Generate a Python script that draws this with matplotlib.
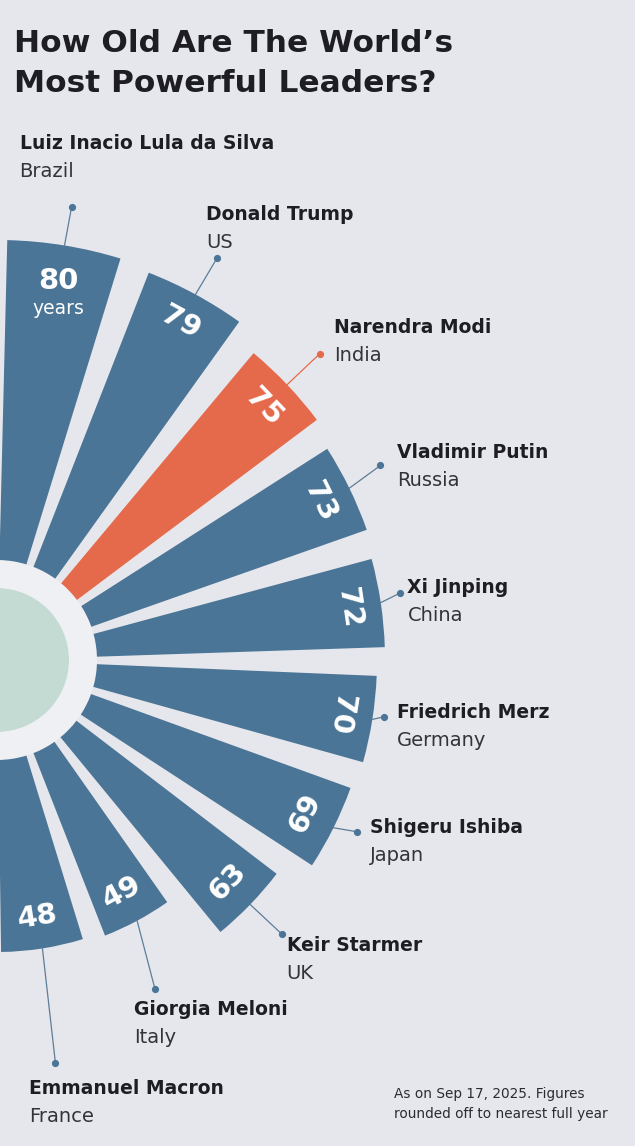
import numpy as np
import matplotlib
matplotlib.use("Agg")
import matplotlib.pyplot as plt

# ---------------- data ----------------
leaders = ["Luiz Inacio Lula da Silva", "Donald Trump", "Narendra Modi", "Vladimir Putin",
           "Xi Jinping", "Friedrich Merz", "Shigeru Ishiba", "Keir Starmer",
           "Giorgia Meloni", "Emmanuel Macron"]
countries = ["Brazil", "US", "India", "Russia", "China", "Germany", "Japan", "UK",
             "Italy", "France"]
ages = [80, 79, 75, 73, 72, 70, 69, 63, 49, 48]
highlight = "India"

title_lines = ["How Old Are The World\u2019s", "Most Powerful Leaders?"]
note_lines = ["As on Sep 17, 2025. Figures", "rounded off to nearest full year"]

# ---------------- style / layout ----------------
BG = "#e6e7ec"
RING = "#eff0f3"
GREEN = "#c4dbd4"
BLUE = "#4b7596"
ORANGE = "#e5694b"
LINE = "#5d7d98"
DARK = "#1e1e22"

W, H = 635, 1146
CX, CY = -3, 660          # centre of the radial chart in image pixels
PX_PER_UNIT = 4.0
RMAX = 125
BAR_BASE = 25             # inner offset of the bars (radial units)
GREEN_R = 18

# angular layout (degrees, clockwise from 12 o'clock)
START_DEG = 1.4
GAP_DEG = 4.3
bar_w_deg = [15.7, 14.2, 13.2, 13.2, 13.2, 13.2, 13.2, 13.2, 13.7, 16.3]

# leader line extension (px) and angular tweak (deg), text offsets (px, y down)
leader_ext = [39, 42, 45, 38, 21, 11, 23, 43, 69, 115]
leader_dth = [0.1, 0.2, 0.0, -0.9, -0.95, -0.65, -1.0, -0.1, 2.6, 0.7]
text_off = [(-52, -64), (-11, -44), (14, -26), (17, -13), (7, -5),
            (13, -4), (13, -4), (5, 12), (-21, 20), (-26, 26)]

fig = plt.figure(figsize=(W / 100, H / 100), dpi=100, facecolor=BG)
R = RMAX * PX_PER_UNIT
ax = fig.add_axes([(CX - R) / W, (H - CY - R) / H, 2 * R / W, 2 * R / H],
                  projection="polar")
ax.set_theta_zero_location("N")
ax.set_theta_direction(-1)
ax.set_ylim(0, RMAX)
ax.axis("off")

# central decoration
ax.bar(0, GREEN_R, width=2 * np.pi, bottom=0, color=GREEN, linewidth=0, zorder=1)
ax.bar(0, BAR_BASE - GREEN_R, width=2 * np.pi, bottom=GREEN_R, color=RING,
       linewidth=0, zorder=1)

bw = np.array(bar_w_deg)
left_edges = START_DEG + np.concatenate([[0], np.cumsum(bw[:-1] + GAP_DEG)])
theta_deg = left_edges + bw / 2
theta = np.deg2rad(theta_deg)
colors = [ORANGE if c == highlight else BLUE for c in countries]
ax.bar(theta, ages, width=np.deg2rad(bw), bottom=BAR_BASE, color=colors,
       linewidth=0, zorder=2)

# value labels
for i, (t, td, a) in enumerate(zip(theta, theta_deg, ages)):
    r_lab = a + BAR_BASE - 8
    if i == 0:
        r_lab = a + BAR_BASE - 8.9
        ax.text(t, r_lab, str(a), ha="center", va="center", color="white",
                fontsize=21, fontweight="bold", zorder=5)
        ax.annotate("years", xy=(t, r_lab), xytext=(0, -28),
                    textcoords="offset pixels", ha="center", va="center",
                    color="white", fontsize=13.5, zorder=5)
        continue
    rot = -td if td <= 100 else 180 - td
    ax.text(t, r_lab, str(a), ha="center", va="center", color="white",
            fontsize=21, fontweight="bold", rotation=rot,
            rotation_mode="anchor", zorder=5)

# leader lines, dots and names
for i, (t, td, a) in enumerate(zip(theta, theta_deg, ages)):
    col = ORANGE if countries[i] == highlight else LINE
    dcol = ORANGE if countries[i] == highlight else BLUE
    r0 = a + BAR_BASE
    r1 = r0 + leader_ext[i] / PX_PER_UNIT
    t1 = np.deg2rad(td + leader_dth[i])
    ax.plot([t, t1], [r0, r1], color=col, lw=0.9, zorder=3, clip_on=False)
    ax.plot([t1], [r1], marker="o", ms=5.2, color=dcol, mec="none", zorder=4,
            clip_on=False)
    dx, dy = text_off[i]
    ax.annotate(leaders[i], xy=(t1, r1), xytext=(dx, -dy),
                textcoords="offset pixels", ha="left", va="center",
                color=DARK, fontsize=13.5, fontweight="bold",
                annotation_clip=False)
    ax.annotate(countries[i], xy=(t1, r1), xytext=(dx, -dy - 28),
                textcoords="offset pixels", ha="left", va="center",
                color="#333338", fontsize=14, annotation_clip=False)

# title
fig.text(14 / W, 1 - 44 / H, title_lines[0], ha="left", va="center",
         fontsize=22.5, fontweight="bold", color=DARK)
fig.text(14 / W, 1 - 84 / H, title_lines[1], ha="left", va="center",
         fontsize=22.5, fontweight="bold", color=DARK)

# note
fig.text(394 / W, 1 - 1094 / H, note_lines[0], ha="left", va="center",
         fontsize=9.8, color="#2b2b30")
fig.text(394 / W, 1 - 1114 / H, note_lines[1], ha="left", va="center",
         fontsize=9.8, color="#2b2b30")

fig.savefig("out.png", dpi=100, facecolor=BG)
